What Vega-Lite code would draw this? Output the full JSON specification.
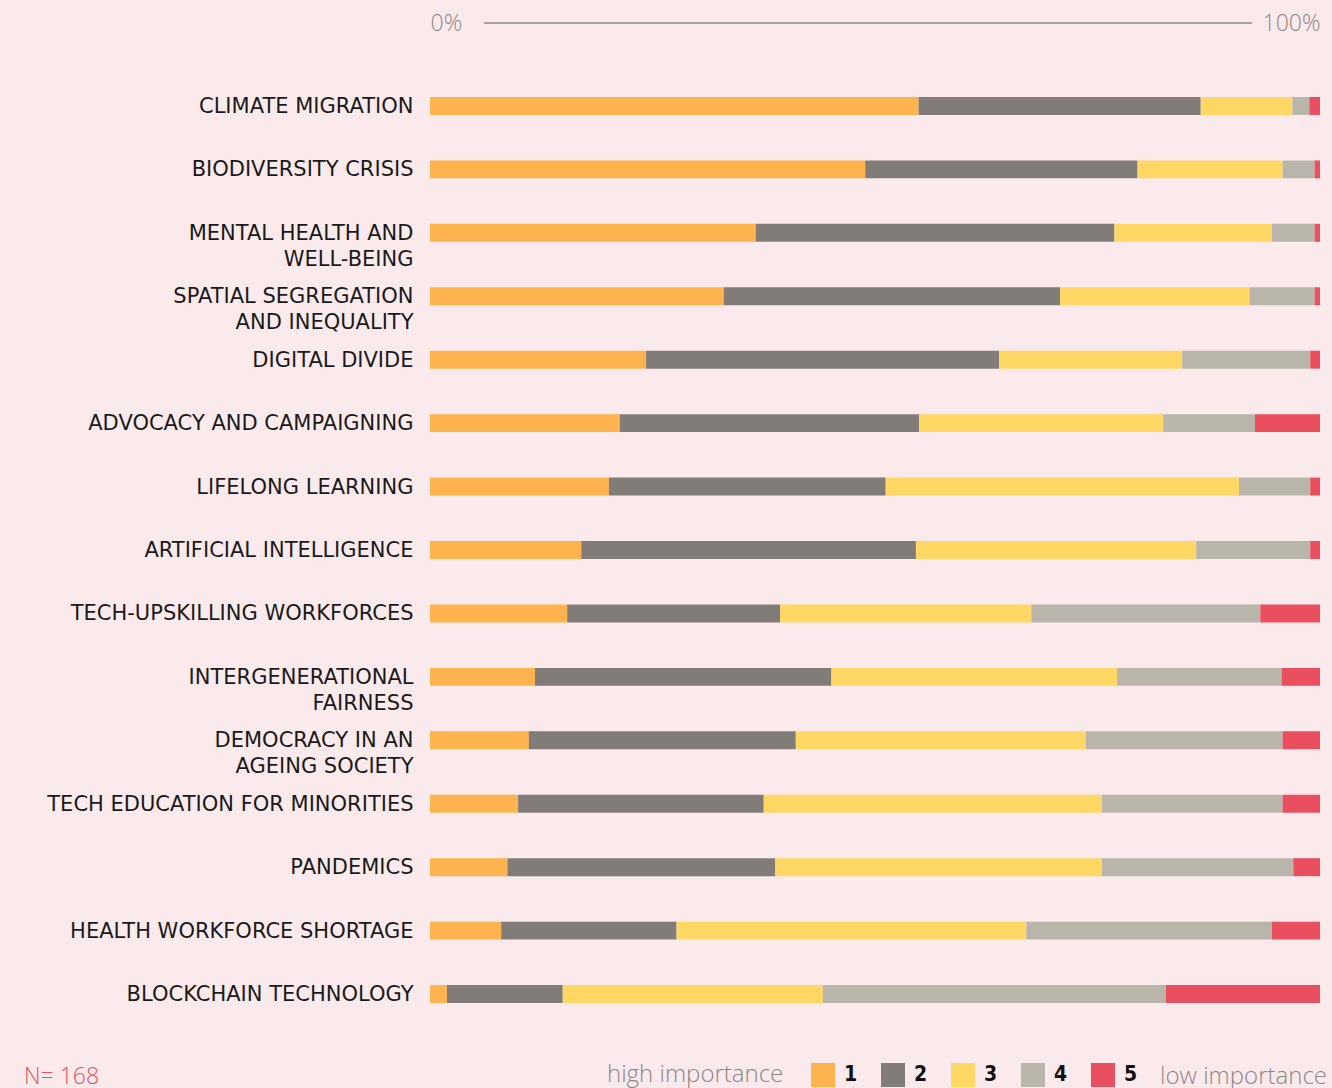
{
  "$schema": "https://vega.github.io/schema/vega-lite/v6.json",
  "width": 890,
  "height": 972,
  "autosize": {"type": "none"},
  "padding": {"left": 430, "top": 64, "right": 12, "bottom": 52},
  "background": "#fbeaec",
  "config": {"view": {"stroke": null}, "font": "DejaVu Sans"},
  "layer": [
    {
      "data": {"values": [
        {"topic": "CLIMATE MIGRATION", "1": 54.9, "2": 31.7, "3": 10.3, "4": 1.9, "5": 1.2},
        {"topic": "BIODIVERSITY CRISIS", "1": 48.9, "2": 30.6, "3": 16.3, "4": 3.6, "5": 0.6},
        {"topic": "MENTAL HEALTH AND|WELL-BEING", "1": 36.6, "2": 40.3, "3": 17.7, "4": 4.8, "5": 0.6},
        {"topic": "SPATIAL SEGREGATION|AND INEQUALITY", "1": 33.0, "2": 37.8, "3": 21.3, "4": 7.3, "5": 0.6},
        {"topic": "DIGITAL DIVIDE", "1": 24.3, "2": 39.7, "3": 20.6, "4": 14.4, "5": 1.1},
        {"topic": "ADVOCACY AND CAMPAIGNING", "1": 21.3, "2": 33.6, "3": 27.4, "4": 10.3, "5": 7.3},
        {"topic": "LIFELONG LEARNING", "1": 20.1, "2": 31.1, "3": 39.7, "4": 8.0, "5": 1.1},
        {"topic": "ARTIFICIAL INTELLIGENCE", "1": 17.0, "2": 37.6, "3": 31.5, "4": 12.8, "5": 1.1},
        {"topic": "TECH-UPSKILLING WORKFORCES", "1": 15.4, "2": 23.9, "3": 28.2, "4": 25.7, "5": 6.7},
        {"topic": "INTERGENERATIONAL|FAIRNESS", "1": 11.8, "2": 33.3, "3": 32.1, "4": 18.5, "5": 4.3},
        {"topic": "DEMOCRACY IN AN|AGEING SOCIETY", "1": 11.1, "2": 30.0, "3": 32.6, "4": 22.1, "5": 4.2},
        {"topic": "TECH EDUCATION FOR MINORITIES", "1": 9.9, "2": 27.6, "3": 38.0, "4": 20.3, "5": 4.2},
        {"topic": "PANDEMICS", "1": 8.7, "2": 30.1, "3": 36.7, "4": 21.5, "5": 3.0},
        {"topic": "HEALTH WORKFORCE SHORTAGE", "1": 8.0, "2": 19.7, "3": 39.3, "4": 27.6, "5": 5.4},
        {"topic": "BLOCKCHAIN TECHNOLOGY", "1": 1.9, "2": 13.0, "3": 29.2, "4": 38.5, "5": 17.3}
      ]},
      "transform": [{"fold": ["1", "2", "3", "4", "5"], "as": ["key", "pct"]}],
      "mark": {"type": "bar"},
      "encoding": {
        "y": {
          "field": "topic", "type": "nominal", "sort": null,
          "scale": {"paddingInner": 0.717, "paddingOuter": 0.52},
          "axis": {"title": null, "domain": false, "ticks": false, "tickSize": 0, "labelPadding": 17, "labelFontSize": 21, "labelColor": "#1a1a1a", "labelFont": "DejaVu Sans", "labelExpr": "split(datum.label, '|')", "labelLineHeight": 26, "labelBaseline": "line-top", "labelOffset": -12, "labelLimit": 500}
        },
        "x": {
          "field": "pct", "type": "quantitative", "stack": "normalize",
          "axis": {"orient": "top", "values": [0, 1], "format": ".0%", "title": null, "domain": false, "ticks": false, "tickSize": 0, "grid": false, "labelFontSize": 23, "labelFont": "Open Sans", "labelFontWeight": 300, "labelColor": "#8d8786", "labelPadding": 41, "labelBaseline": "middle", "labelFlush": true}
        },
        "order": {"field": "key", "type": "ordinal"},
        "color": {
          "field": "key", "type": "nominal",
          "scale": {"domain": ["1", "2", "3", "4", "5"], "range": ["#ffb34e", "#817c78", "#ffd764", "#bab5ab", "#ea4f5f"]},
          "legend": {"orient": "none", "legendX": 177, "legendY": 999, "direction": "horizontal", "title": "high importance", "titleOrient": "left", "titleFontSize": 24, "titleFontWeight": 300, "titleFont": "Open Sans", "titleColor": "#8d8786", "titlePadding": 27, "symbolType": "square", "symbolSize": 576, "symbolStrokeWidth": 0, "symbolOpacity": 1, "labelFontSize": 21, "labelFontWeight": "bold", "labelFont": "DejaVu Sans Condensed", "labelColor": "#111111", "labelOffset": 9, "columnPadding": 23, "gridAlign": "all"}
        }
      }
    },
    {
      "data": {"values": [{}]},
      "mark": {"type": "rule", "color": "#8f8887", "strokeWidth": 1.5},
      "encoding": {"x": {"datum": 0.0607}, "x2": {"datum": 0.9236}, "y": {"value": -41}}
    },
    {
      "data": {"values": [{"t": "low importance"}]},
      "mark": {"type": "text", "align": "right", "baseline": "middle", "dx": 7, "fontSize": 24, "fontWeight": 300, "font": "Open Sans", "color": "#8d8786"},
      "encoding": {"text": {"field": "t"}, "x": {"datum": 1}, "y": {"value": 1013}}
    },
    {
      "data": {"values": [{"t": "N= 168"}]},
      "mark": {"type": "text", "align": "left", "baseline": "middle", "dx": -406, "fontSize": 23, "fontWeight": 300, "font": "Open Sans", "color": "#e94e5e"},
      "encoding": {"text": {"field": "t"}, "x": {"datum": 0}, "y": {"value": 1013}}
    }
  ]
}
